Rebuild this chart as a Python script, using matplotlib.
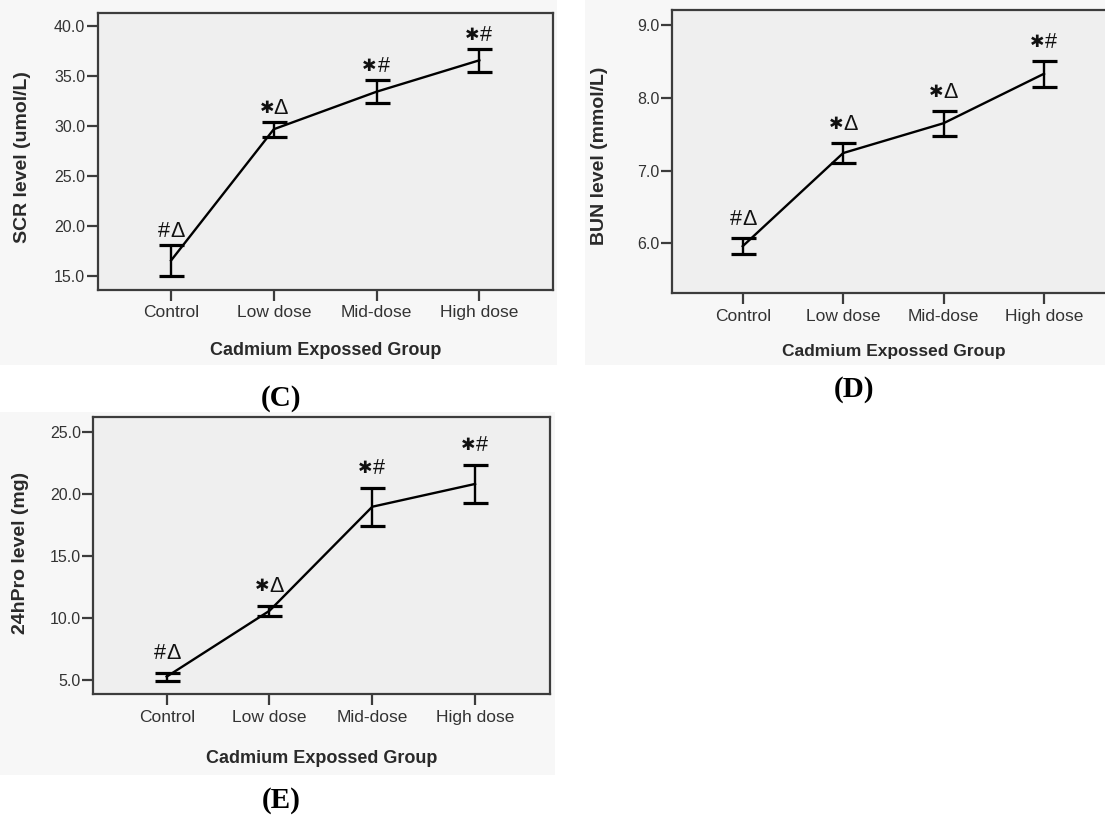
import matplotlib
matplotlib.use("Agg")
import matplotlib.pyplot as plt
from matplotlib.patches import Rectangle

# Group names on the x axis
groups = ["Control", "Low dose", "Mid-dose", "High dose"]

# (C) serum creatinine, umol/L: mean and error-bar half width
scr_mean = [16.55, 29.68, 33.43, 36.57]
scr_err = [1.55, 0.75, 1.17, 1.13]
scr_marks = ["#Δ", "✱Δ", "✱#", "✱#"]

# (D) blood urea nitrogen, mmol/L
bun_mean = [5.96, 7.24, 7.65, 8.33]
bun_err = [0.11, 0.14, 0.17, 0.18]
bun_marks = ["#Δ", "✱Δ", "✱Δ", "✱#"]

# (E) 24 h urinary protein, mg
pro_mean = [5.27, 10.59, 18.99, 20.83]
pro_err = [0.32, 0.40, 1.55, 1.50]
pro_marks = ["#Δ", "✱Δ", "✱#", "✱#"]

W, H = 1105, 818
fig = plt.figure(figsize=(W / 100, H / 100), dpi=100)
fig.patch.set_facecolor("white")

SANS = ["Liberation Sans", "DejaVu Sans"]
SERIF = ["Liberation Serif", "DejaVu Serif"]
FRAME = "#3c3c3c"
TEXT = "#2a2a2a"


def px_rect(x0, y0, x1, y1):
    """Figure-fraction rectangle from pixel edges (y measured from top)."""
    return [x0 / W, 1 - y1 / H, (x1 - x0) / W, (y1 - y0) / H]


def panel_bg(x0, y0, x1, y1):
    r = Rectangle((x0 / W, 1 - y1 / H), (x1 - x0) / W, (y1 - y0) / H,
                  transform=fig.transFigure, facecolor="#f7f7f7",
                  edgecolor="none", zorder=-10)
    fig.add_artist(r)


def significance(ax, x, y, mark, dy):
    """Two-symbol significance mark centred above an error bar."""
    for k, ch in enumerate(mark):
        dx = -5.0 if k == 0 else 5.0
        size = 12.5 if ch == "✱" else 15.5
        ax.annotate(ch, xy=(x, y), xytext=(dx, dy),
                    textcoords="offset points", ha="center", va="center",
                    fontsize=size, color="#111111", family=SANS, zorder=4)


def draw_panel(box, means, errs, marks, ylabel, yticks, xlim, ylim,
               ylab_pos, xlab_pos, mark_off, lab_size=14, xlab_size=13):
    ax = fig.add_axes(px_rect(*box))
    ax.set_facecolor("#efefef")
    x = list(range(len(groups)))
    ax.errorbar(x, means, yerr=errs, color="black", lw=1.7,
                elinewidth=1.7, capsize=9, capthick=2.3, zorder=3)
    for xi, m, e, t in zip(x, means, errs, marks):
        significance(ax, xi, m + e, t, mark_off)
    ax.set_xlim(*xlim)
    ax.set_ylim(*ylim)
    ax.set_xticks(x, groups)
    ax.set_yticks(yticks, [f"{v:.1f}" for v in yticks])
    for s in ax.spines.values():
        s.set_color(FRAME)
        s.set_linewidth(1.6)
    ax.tick_params(axis="both", direction="out", length=8, width=1.6,
                   color=FRAME, labelcolor="#333333")
    ax.tick_params(axis="x", pad=3, labelsize=12.5)
    ax.tick_params(axis="y", pad=1, labelsize=11.5)
    for lab in ax.get_xticklabels() + ax.get_yticklabels():
        lab.set_family(SANS)
    ax.set_ylabel(ylabel, fontsize=lab_size, fontweight="bold",
                  family=SANS, color=TEXT)
    ax.yaxis.set_label_coords(*ylab_pos)
    ax.yaxis.label.set_va("center")
    ax.set_xlabel("Cadmium Expossed Group", fontsize=xlab_size,
                  fontweight="bold", family=SANS, color=TEXT)
    ax.xaxis.set_label_coords(*xlab_pos)
    ax.xaxis.label.set_va("center")
    return ax


# light panel backgrounds behind each chart
panel_bg(0, 0, 557, 365)
panel_bg(585, 0, 1105, 365)
panel_bg(0, 412, 555, 775)

draw_panel((97.7, 13.3, 553.3, 290.0), scr_mean, scr_err, scr_marks,
           "SCR level (umol/L)", [15.0, 20.0, 25.0, 30.0, 35.0, 40.0],
           (-0.714, 3.72), (13.6, 41.27), (-0.165, 0.48), (0.5, -0.217),
           mark_off=9.8)

draw_panel((671.7, 10.0, 1115.0, 293.3), bun_mean, bun_err, bun_marks,
           "BUN level (mmol/L)", [6.0, 7.0, 8.0, 9.0],
           (-0.707, 3.707), (5.313, 9.206), (-0.163, 0.485), (0.5, -0.206),
           mark_off=13.3, xlab_size=12.5)

draw_panel((93.3, 416.7, 550.0, 694.3), pro_mean, pro_err, pro_marks,
           "24hPro level (mg)", [5.0, 10.0, 15.0, 20.0, 25.0],
           (-0.714, 3.729), (3.845, 26.26), (-0.159, 0.509), (0.5, -0.2305),
           mark_off=14.0)

# panel letters
for txt, (px, py) in [("(C)", (281, 399)), ("(D)", (854, 390)),
                      ("(E)", (281, 800))]:
    fig.text(px / W, 1 - py / H, txt, ha="center", va="center",
             fontsize=21, fontweight="bold", family=SERIF, color="black")

fig.savefig("out.png", dpi=100)
